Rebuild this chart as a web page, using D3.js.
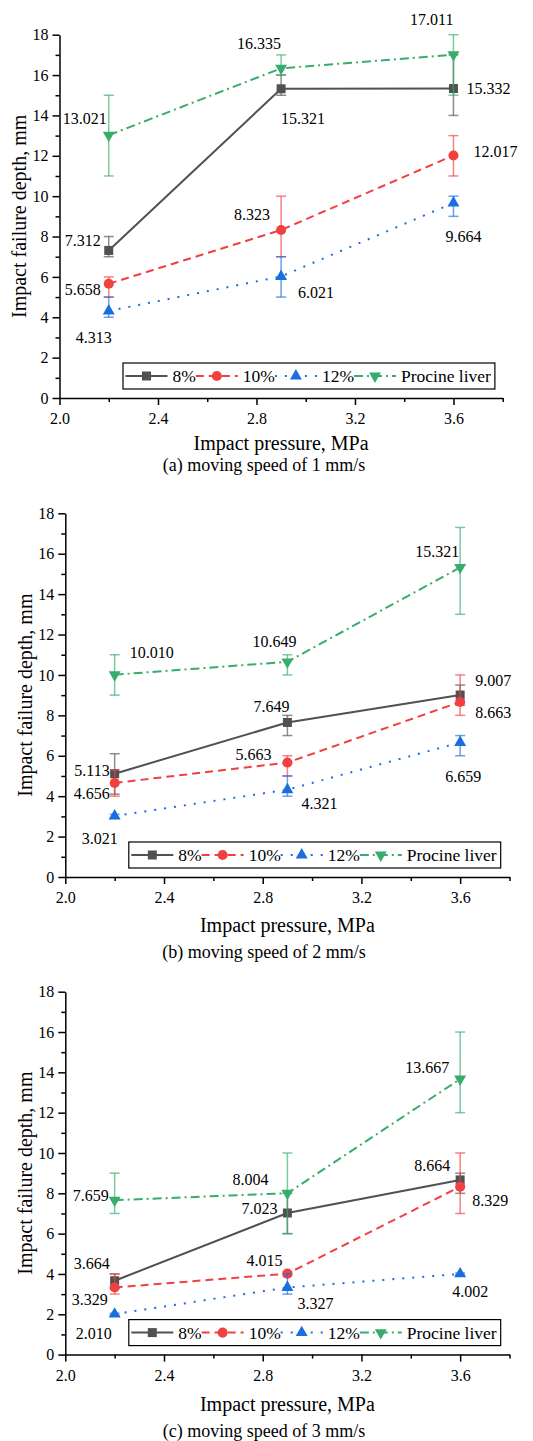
<!DOCTYPE html>
<html>
<head>
<meta charset="utf-8">
<script src="https://cdn.jsdelivr.net/npm/d3@7"></script>
<style>
body { margin: 0; background: #fff; }
svg text { font-family: "Liberation Serif", "Times New Roman", serif !important; fill: #000; }
</style>
</head>
<body>
<svg id="chart"></svg>
<script>
// ---- data ----
const pressures = [2.2, 2.9, 3.6];
const seriesNames = ['8%', '10%', '12%', 'Procine liver'];
const xTicks = [2.0, 2.4, 2.8, 3.2, 3.6];
const xMinorTicks = [2.2, 2.6, 3.0, 3.4, 3.8];
const yTicks = [0, 2, 4, 6, 8, 10, 12, 14, 16, 18];
const yMinorTicks = [1, 3, 5, 7, 9, 11, 13, 15, 17];
const captions = ['(a) moving speed of 1 mm/s', '(b) moving speed of 2 mm/s', '(c) moving speed of 3 mm/s'];

// moving speed 1 mm/s  (rows: 8%, 10%, 12%, liver)
const depth1 = [[7.312, 15.321, 15.332], [5.658, 8.323, 12.017], [4.313, 6.021, 9.664], [13.021, 16.335, 17.011]];
const low1 = [[7, 15, 14], [5, 7, 11], [4, 5, 9], [11, 16, 15]];
const high1 = [[8, 16, 17], [6, 10, 13], [5, 7, 10], [15, 17, 18]];

// moving speed 2 mm/s
const depth2 = [[5.113, 7.649, 9.007], [4.656, 5.663, 8.663], [3.021, 4.321, 6.659], [10.010, 10.649, 15.321]];
const low2 = [[4.1, 7, 8.5], [4, 5, 8], [2.9, 4, 6], [9, 10, 13]];
const high2 = [[6.1, 8, 9.5], [5.3, 6, 10], [3.1, 5, 7], [11, 11, 17.3]];

// moving speed 3 mm/s
const depth3 = [[3.664, 7.023, 8.664], [3.329, 4.015, 8.329], [2.010, 3.327, 4.002], [7.659, 8.004, 13.667]];
const low3 = [[3.3, 6, 8], [3, 3.9, 7], [1.95, 3, 3.95], [7, 6, 12]];
const high3 = [[4, 8, 9], [4, 4.1, 10], [2.05, 4, 4.05], [9, 10, 16]];

// ---- styles / layout ----
const serif = '"Liberation Serif", "Times New Roman", serif';
const colors = ['#515151', '#F14040', '#1A6FDF', '#37AD6B'];
const dashes = [null, '8,5', '2,8', '9,4,2,4'];
const symbols = [d3.symbolSquare, d3.symbolCircle, d3.symbolTriangle, d3.symbolTriangle];
const symbolSizes = [81, 80, 62, 62];
const symbolRotate = [0, 0, 0, 180];

// value label offsets [dx, dy, anchor] per panel / series / point
const labelPos = [
	[
		[[-8, -10, 'end'], [0, 30, 'start'], [13, 0, 'start']],
		[[-8, 6, 'end'], [-11, -16, 'end'], [20, -4, 'start']],
		[[-15, 26, 'middle'], [17, 16, 'start'], [10, 33, 'middle']],
		[[-2, -17, 'end'], [0, -25, 'end'], [0, -35, 'end']]
	],
	[
		[[-5, -3, 'end'], [-16, -16, 'middle'], [15, -15, 'start']],
		[[-5, 10, 'end'], [-16, -8, 'end'], [15, 10, 'start']],
		[[-15, 22, 'middle'], [14, 14, 'start'], [3, 34, 'middle']],
		[[15, -22, 'start'], [-13, -20, 'middle'], [-1, -16, 'end']]
	],
	[
		[[-5, -17, 'end'], [-10, -5, 'end'], [-10, -15, 'end']],
		[[-7, 12, 'end'], [-23, -13, 'middle'], [12, 14, 'start']],
		[[-21, 19, 'middle'], [10, 16, 'start'], [10, 17, 'middle']],
		[[-6, -5, 'end'], [-19, -14, 'end'], [-11, -12, 'end']]
	]
];

const panels = [
	{ depth: depth1, low: low1, high: high1, left: 59.5, right: 502.7, top: 34.7, bottom: 398, yTitleX: 26, titleY: 450, captionY: 471 },
	{ depth: depth2, low: low2, high: high2, left: 65.3, right: 509.5, top: 513.3, bottom: 877, yTitleX: 31.5, titleY: 931.5, captionY: 957.5 },
	{ depth: depth3, low: low3, high: high3, left: 65.3, right: 509.5, top: 991.7, bottom: 1354.6, yTitleX: 31.5, titleY: 1410.5, captionY: 1437 }
];

const svg = d3.select('#chart').attr('width', 533).attr('height', 1441);

const symbolPath = (i) => d3.symbol().type(symbols[i]).size(symbolSizes[i])();

panels.forEach((p, pi) => {
	const g = svg.append('g').attr('font-family', serif);

	const x = d3.scaleLinear().domain([2.0, 3.8]).range([p.left, p.right]);
	const y = d3.scaleLinear().domain([0, 18]).range([p.bottom, p.top]);

	// axes
	g.append('g').attr('transform', `translate(0,${p.bottom})`)
		.call(d3.axisBottom(x).tickValues(xTicks).tickFormat(d3.format('.1f'))
			.tickSize(7).tickPadding(8).tickSizeOuter(0));
	g.append('g').attr('transform', `translate(0,${p.bottom})`)
		.call(d3.axisBottom(x).tickValues(xMinorTicks).tickFormat('').tickSize(4).tickSizeOuter(0))
		.select('.domain').remove();
	g.append('g').attr('transform', `translate(${p.left},0)`)
		.call(d3.axisLeft(y).tickValues(yTicks).tickSize(7).tickPadding(4).tickSizeOuter(0));
	g.append('g').attr('transform', `translate(${p.left},0)`)
		.call(d3.axisLeft(y).tickValues(yMinorTicks).tickFormat('').tickSize(4).tickSizeOuter(0))
		.select('.domain').remove();

	g.selectAll('.domain, .tick line').attr('stroke', '#000').attr('stroke-width', 1.5);
	g.selectAll('g').filter(function () { return this.getAttribute('font-family'); })
		.attr('font-family', serif).attr('font-size', 16);
	g.selectAll('.tick text').attr('font-size', 16).attr('font-family', serif).attr('fill', '#000');

	// axis titles
	g.append('text')
		.attr('x', (p.left + p.right) / 2).attr('y', p.titleY)
		.attr('text-anchor', 'middle').attr('font-size', 20).attr('font-family', serif)
		.text('Impact pressure, MPa');
	g.append('text')
		.attr('transform', `translate(${p.yTitleX},${(p.top + p.bottom) / 2}) rotate(-90)`)
		.attr('text-anchor', 'middle').attr('font-size', 20).attr('font-family', serif)
		.text('Impact failure depth, mm');
	g.append('text')
		.attr('x', 264).attr('y', p.captionY)
		.attr('text-anchor', 'middle').attr('font-size', 18).attr('font-family', serif)
		.text(captions[pi]);

	// series
	const line = d3.line()
		.x((d, i) => x(pressures[i]))
		.y(d => y(d));

	seriesNames.forEach((name, si) => {
		const vals = p.depth[si];
		const sg = g.append('g');

		sg.append('path').datum(vals)
			.attr('d', line)
			.attr('fill', 'none')
			.attr('stroke', colors[si])
			.attr('stroke-width', 2)
			.attr('stroke-dasharray', dashes[si]);

		// error bars
		const eb = sg.selectAll('.err').data(vals).enter().append('g')
			.attr('stroke', colors[si]).attr('stroke-opacity', 0.65).attr('stroke-width', 1.5);
		eb.append('line')
			.attr('x1', (d, i) => x(pressures[i])).attr('x2', (d, i) => x(pressures[i]))
			.attr('y1', (d, i) => y(p.low[si][i])).attr('y2', (d, i) => y(p.high[si][i]));
		eb.append('line')
			.attr('x1', (d, i) => x(pressures[i]) - 5).attr('x2', (d, i) => x(pressures[i]) + 5)
			.attr('y1', (d, i) => y(p.low[si][i])).attr('y2', (d, i) => y(p.low[si][i]));
		eb.append('line')
			.attr('x1', (d, i) => x(pressures[i]) - 5).attr('x2', (d, i) => x(pressures[i]) + 5)
			.attr('y1', (d, i) => y(p.high[si][i])).attr('y2', (d, i) => y(p.high[si][i]));

		// markers
		sg.selectAll('.mk').data(vals).enter().append('path')
			.attr('d', symbolPath(si))
			.attr('transform', (d, i) => `translate(${x(pressures[i])},${y(d)}) rotate(${symbolRotate[si]})`)
			.attr('fill', colors[si]);

		// value labels
		sg.selectAll('.lbl').data(vals).enter().append('text')
			.attr('x', (d, i) => x(pressures[i]) + labelPos[pi][si][i][0])
			.attr('y', (d, i) => y(d) + labelPos[pi][si][i][1])
			.attr('dy', '0.35em')
			.attr('text-anchor', (d, i) => labelPos[pi][si][i][2])
			.attr('font-size', 16).attr('font-family', serif)
			.text(d => d.toFixed(3));
	});

	// legend
	const lg = g.append('g').attr('transform', `translate(${p.left + 63.5},${p.bottom - 35})`);
	const box = lg.append('rect')
		.attr('x', 0).attr('y', 0).attr('height', 26)
		.attr('fill', '#fff').attr('stroke', '#000').attr('stroke-width', 1.2);
	let cx = 2.5;
	seriesNames.forEach((name, si) => {
		lg.append('line')
			.attr('x1', cx).attr('x2', cx + 42).attr('y1', 13).attr('y2', 13)
			.attr('stroke', colors[si]).attr('stroke-width', 2)
			.attr('stroke-dasharray', dashes[si]);
		lg.append('path')
			.attr('d', symbolPath(si))
			.attr('transform', `translate(${cx + 21},13) rotate(${symbolRotate[si]})`)
			.attr('fill', colors[si]);
		const t = lg.append('text')
			.attr('x', cx + 47).attr('y', 13).attr('dy', '0.35em')
			.attr('font-size', 17.5).attr('font-family', serif)
			.text(name);
		cx += 47 + t.node().getComputedTextLength();
	});
	box.attr('width', cx + 4);
});
</script>
</body>
</html>
